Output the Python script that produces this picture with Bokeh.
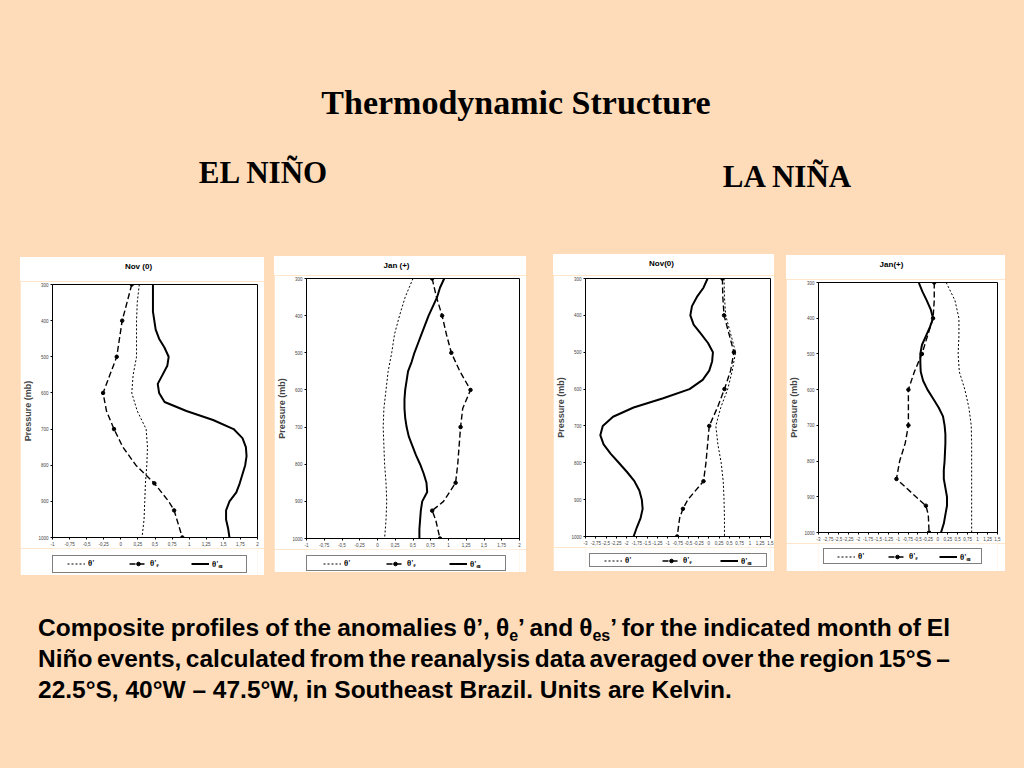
from bokeh.plotting import figure
from bokeh.models import (Range1d, FixedTicker, Legend, LegendItem, Div, Spacer,
                          GlobalInlineStyleSheet, CustomJSTickFormatter)
from bokeh.layouts import row, column
from bokeh.embed import file_html
from bokeh.resources import INLINE

PEACH = "#FFDCB9"

# ---------------- data ----------------
LEV_25 = list(range(300, 1001, 25))          # theta'es levels
LEV_50 = list(range(300, 1001, 50))          # theta' levels
LEV_E = [300, 350, 400, 450, 500, 550, 600, 650, 700, 750, 800, 850, 900, 925, 950, 1000]
MARK_LEV = [300, 400, 500, 600, 700, 850, 925, 1000]

X_TICKS_NINO = [-1, -0.75, -0.5, -0.25, 0, 0.25, 0.5, 0.75, 1, 1.25, 1.5, 1.75, 2]
X_TICKS_NINA = [-3, -2.75, -2.5, -2.25, -2, -1.75, -1.5, -1.25, -1, -0.75, -0.5, -0.25,
                0, 0.25, 0.5, 0.75, 1, 1.25, 1.5]
Y_TICKS = [300, 400, 500, 600, 700, 800, 900, 1000]

PANEL_TITLES = ["Nov (0)", "Jan (+)", "Nov(0)", "Jan(+)"]

# El Nino, Nov (0)
th_nino_nov = [0.27, 0.24, 0.23, 0.23, 0.23, 0.18, 0.16, 0.24, 0.37, 0.39, 0.38, 0.36, 0.35, 0.34, 0.31]
the_nino_nov = [0.16, 0.09, 0.02, -0.02, -0.06, -0.16, -0.26, -0.21, -0.10, 0.03, 0.22, 0.49, 0.70, 0.78, 0.82, 0.90]
thes_nino_nov = [0.47, 0.47, 0.47, 0.47, 0.49, 0.51, 0.56, 0.64, 0.70, 0.68, 0.61, 0.54, 0.56, 0.64,
                 0.96, 1.35, 1.65, 1.78, 1.83, 1.84, 1.82, 1.78, 1.74, 1.69, 1.59, 1.54, 1.54, 1.57, 1.59]

# El Nino, Jan (+)
th_nino_jan = [0.50, 0.39, 0.31, 0.24, 0.20, 0.15, 0.12, 0.09, 0.08, 0.09, 0.10, 0.12, 0.13, 0.12, 0.10]
the_nino_jan = [0.77, 0.83, 0.91, 0.97, 1.04, 1.16, 1.31, 1.20, 1.17, 1.15, 1.13, 1.10, 0.93, 0.77, 0.82, 0.88]
thes_nino_jan = [0.94, 0.88, 0.84, 0.78, 0.72, 0.67, 0.62, 0.57, 0.52, 0.48, 0.43, 0.41, 0.39, 0.38,
                 0.38, 0.39, 0.41, 0.44, 0.49, 0.54, 0.60, 0.65, 0.69, 0.70, 0.63, 0.61, 0.60, 0.59, 0.59]

# La Nina, Nov (0)
th_nina_nov = [0.37, 0.38, 0.41, 0.53, 0.65, 0.57, 0.46, 0.29, 0.17, 0.22, 0.30, 0.35, 0.37, 0.38, 0.38]
the_nina_nov = [0.33, 0.34, 0.37, 0.49, 0.61, 0.53, 0.38, 0.21, 0.01, -0.03, -0.07, -0.13, -0.51, -0.63, -0.71, -0.77]
thes_nina_nov = [-0.03, -0.13, -0.29, -0.41, -0.45, -0.37, -0.19, -0.02, 0.10, 0.08, 0.01, -0.15, -0.47, -1.11,
                 -1.83, -2.33, -2.58, -2.64, -2.56, -2.39, -2.19, -1.99, -1.81, -1.69, -1.63, -1.61, -1.66, -1.75, -1.83]

# La Nina, Jan (+)
th_nina_jan = [0.21, 0.43, 0.53, 0.53, 0.51, 0.54, 0.68, 0.78, 0.84, 0.85, 0.85, 0.85, 0.85, 0.85, 0.85]
the_nina_jan = [-0.09, -0.09, -0.12, -0.26, -0.40, -0.59, -0.74, -0.74, -0.74, -0.82, -0.96, -1.04, -0.55, -0.30, -0.24, -0.22]
thes_nina_jan = [-0.48, -0.39, -0.28, -0.18, -0.12, -0.20, -0.30, -0.40, -0.44, -0.44, -0.43, -0.37, -0.26, -0.12,
                 0.02, 0.13, 0.17, 0.19, 0.19, 0.18, 0.17, 0.15, 0.15, 0.19, 0.23, 0.23, 0.19, 0.15, 0.08]

LEGEND_LABELS = ["θ'", "θ'ₑ", "θ'ₑₛ"]

STY_TH = dict(line_color="black", line_width=1, line_dash="2 2")
STY_THE = dict(line_color="black", line_width=1.4, line_dash="6 3")
STY_MARK = dict(marker="circle", size=3.5, color="black")
STY_THES = dict(line_color="black", line_width=2)


def add_series(fig, th, the, thes):
    r1 = fig.line(th, LEV_50, **STY_TH)
    r2 = fig.line(the, LEV_E, **STY_THE)
    mx = [v for v, lev in zip(the, LEV_E) if lev in MARK_LEV]
    my = [lev for lev in LEV_E if lev in MARK_LEV]
    r3 = fig.scatter(mx, my, **STY_MARK)
    r4 = fig.line(thes, LEV_25, **STY_THES)
    return r1, r2, r3, r4


def make_title(text, w, h, frame_left, frame_w, pad_top):
    html = (f'<div style="width:{frame_w}px;padding-left:{frame_left}px;padding-top:{pad_top}px;'
            f'text-align:center;font-family:\'Liberation Sans\',Arial,sans-serif;font-weight:bold;'
            f'font-size:8px;line-height:8px;color:black;white-space:nowrap;">{text}</div>')
    return Div(text=html, width=w, height=h, margin=0, styles={"background-color": "white"})


def make_plot(w, h, borders, xticks, th, the, thes):
    left, right, top, bottom = borders
    p = figure(width=w, height=h, x_range=Range1d(xticks[0], xticks[-1]),
               y_range=Range1d(1000, 300), output_backend="svg", toolbar_location=None,
               min_border_left=left, min_border_right=right,
               min_border_top=top, min_border_bottom=bottom,
               background_fill_color="white", border_fill_color="white",
               outline_line_color="black", outline_line_width=1)
    p.xgrid.visible = False
    p.ygrid.visible = False
    p.xaxis.ticker = FixedTicker(ticks=xticks)
    p.xaxis.formatter = CustomJSTickFormatter(code="return String(tick).replace('.', ',');")
    p.yaxis.ticker = FixedTicker(ticks=Y_TICKS)
    for ax in (p.xaxis, p.yaxis):
        ax.major_label_text_font_size = "4.5px"
        ax.major_label_text_font = "Liberation Sans"
        ax.major_label_standoff = 2
        ax.major_tick_in = 0
        ax.major_tick_out = 2
        ax.minor_tick_line_color = None
        ax.axis_line_color = "black"
        ax.major_tick_line_color = "black"
    p.yaxis.axis_label = "Pressure (mb)"
    p.yaxis.axis_label_text_font = "Liberation Sans"
    p.yaxis.axis_label_text_font_size = "9px"
    p.yaxis.axis_label_text_font_style = "bold"
    p.yaxis.axis_label_standoff = 2
    add_series(p, th, the, thes)
    return p


def make_legend(w, h, loc, pad, spacing, lw, th, the, thes):
    # legend strip under a panel; its series lie outside this strip's ranges,
    # only their styles are shown as legend samples
    f = figure(width=w, height=h, x_range=Range1d(0, 1), y_range=Range1d(0, 1),
               output_backend="svg", toolbar_location=None,
               x_axis_location=None, y_axis_location=None,
               min_border=0, background_fill_color="white", border_fill_color="white",
               outline_line_color=None)
    f.xgrid.visible = False
    f.ygrid.visible = False
    r1, r2, r3, r4 = add_series(f, th, the, thes)
    pl, pr, pt, pb = pad
    legend = Legend(items=[LegendItem(label=LEGEND_LABELS[0], renderers=[r1]),
                           LegendItem(label=LEGEND_LABELS[1], renderers=[r2, r3]),
                           LegendItem(label=LEGEND_LABELS[2], renderers=[r4])],
                    orientation="horizontal", location=loc,
                    padding=dict(left=pl, right=pr, top=pt, bottom=pb),
                    spacing=spacing, glyph_width=18, glyph_height=9, label_height=9,
                    label_width=lw, label_standoff=3, margin=0,
                    border_line_color="black", border_line_width=1,
                    background_fill_color="white", background_fill_alpha=1,
                    label_text_font="Liberation Serif", label_text_font_size="8px",
                    label_text_font_style="bold", label_text_color="black")
    f.add_layout(legend)
    return f


t1 = make_title(PANEL_TITLES[0], 244, 24, 29, 208, 6)
p1 = make_plot(244, 267, (29, 7, 3, 11), X_TICKS_NINO, th_nino_nov, the_nino_nov, thes_nino_nov)
l1 = make_legend(244, 27, (0, 2), (14, 4, 2, 3), 11, 30, th_nino_nov, the_nino_nov, thes_nino_nov)

t2 = make_title(PANEL_TITLES[1], 252, 19, 32, 213, 4)
p2 = make_plot(252, 274, (32, 7, 3, 11), X_TICKS_NINO, th_nino_jan, the_nino_jan, thes_nino_jan)
l2 = make_legend(252, 23, (0, 1), (16, 4, 2, 1), 11, 31, th_nino_jan, the_nino_jan, thes_nino_jan)

t3 = make_title(PANEL_TITLES[2], 221, 21, 29, 188, 4)
p3 = make_plot(221, 272, (29, 4, 3, 11), X_TICKS_NINA, th_nina_nov, the_nina_nov, thes_nina_nov)
l3 = make_legend(221, 24, (4, 4), (14, 4, 1, 0), 16, 21, th_nina_nov, the_nina_nov, thes_nina_nov)

t4 = make_title(PANEL_TITLES[3], 219, 24, 27, 184, 6)
p4 = make_plot(219, 264, (27, 8, 3, 11), X_TICKS_NINA, th_nina_jan, the_nina_jan, thes_nina_jan)
l4 = make_legend(219, 28, (5, 7), (13, 4, 2, 1), 13, 17, th_nina_jan, the_nina_jan, thes_nina_jan)

header_html = """
<div style="position:relative;width:1024px;height:254px;font-family:'Liberation Serif','Times New Roman',serif;font-weight:bold;color:black;">
  <span style="position:absolute;left:516px;top:86px;transform:translateX(-50%);white-space:nowrap;font-size:34px;line-height:34px;">Thermodynamic Structure</span>
  <span style="position:absolute;left:263px;top:157px;transform:translateX(-50%);white-space:nowrap;font-size:31px;line-height:31px;">EL NIÑO</span>
  <span style="position:absolute;left:787px;top:161px;transform:translateX(-50%);white-space:nowrap;font-size:31px;line-height:31px;">LA NIÑA</span>
</div>
"""
header = Div(text=header_html, width=1024, height=254, margin=0,
             styles={"background-color": PEACH})

sub = "font-size:16px;line-height:0;vertical-align:-5px;"
just = "text-align:justify;text-align-last:justify;white-space:nowrap;word-spacing:-3px;"
caption_html = f"""
<div style="padding-top:37px;padding-left:38px;width:950px;font-family:'Liberation Sans',Arial,sans-serif;font-weight:bold;font-size:24.5px;line-height:31px;color:black;">
<div style="{just}">Composite profiles of the anomalies θ’, θ<span style="{sub}">e</span>’ and θ<span style="{sub}">es</span>’ for the indicated month of El</div>
<div style="{just}">Niño events, calculated from the reanalysis data averaged over the region 15°S –</div>
<div style="white-space:nowrap;">22.5°S, 40°W – 47.5°W, in Southeast Brazil. Units are Kelvin.</div>
</div>
"""
caption = Div(text=caption_html, width=1024, height=193, margin=0,
              styles={"background-color": PEACH})

panels = row(Spacer(width=20, height=321),
             column(Spacer(width=244, height=3), t1, p1, l1),
             Spacer(width=10, height=321),
             column(Spacer(width=252, height=2), t2, p2, l2),
             Spacer(width=27, height=321),
             column(Spacer(width=221, height=0), t3, p3, l3),
             Spacer(width=12, height=321),
             column(Spacer(width=219, height=1), t4, p4, l4),
             Spacer(width=19, height=321))

root = column(header, panels, caption)
root.stylesheets = [GlobalInlineStyleSheet(css=f"html, body {{ background-color: {PEACH}; }}")]

open("out.html", "w").write(file_html(root, INLINE, title="Thermodynamic Structure"))
